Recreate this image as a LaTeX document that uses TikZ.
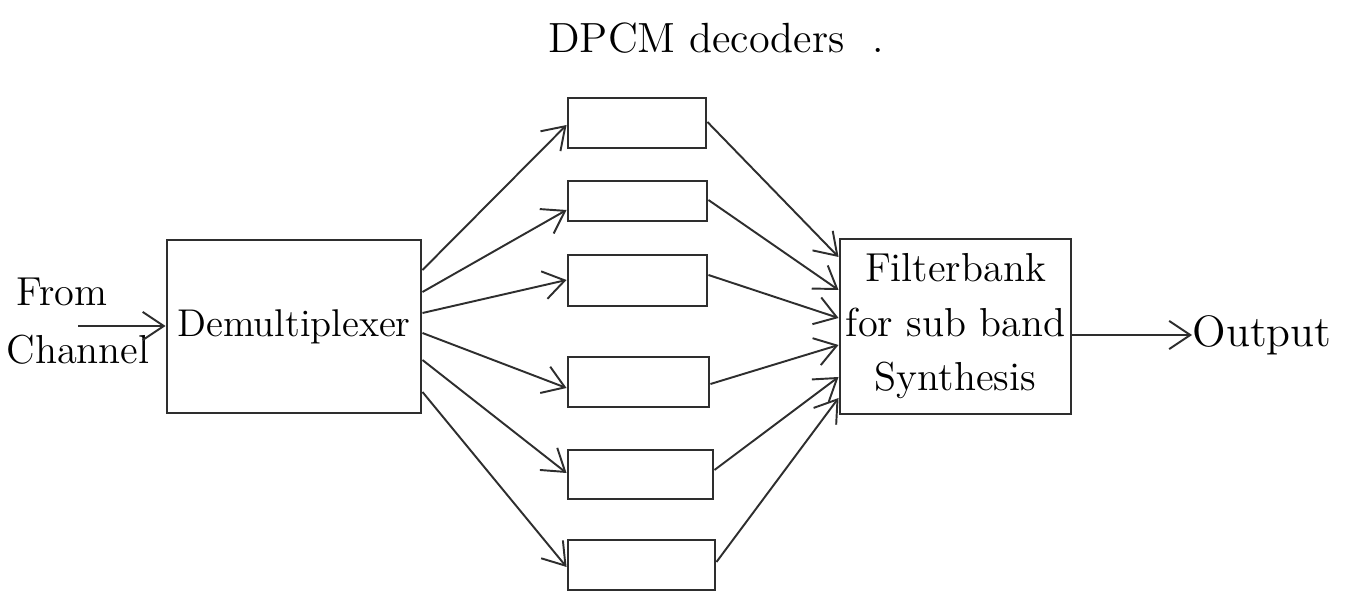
\documentclass[tikz,border=0pt]{standalone}
\usetikzlibrary{arrows.meta}
\definecolor{ink}{HTML}{2E2E2E}
\begin{document}
\begin{tikzpicture}[x=0.01cm,y=-0.01cm,
  box/.style 2 args={draw=ink,line width=0.8pt,minimum width=#1cm,minimum height=#2cm,inner sep=0pt},
  arr/.style={draw=ink,line width=0.55pt,-{Straight Barb[length=6pt,width=8pt]}},
  lbl/.style={text=black,inner sep=0pt,font=\fontsize{#1}{#1}\selectfont},
  lbl/.default=11]
  \useasboundingbox (0,0) rectangle (1351,607);

  % title above the decoder bank
  \node[lbl=12] (title) at (716,38) {DPCM decoders\ \ .};

  % input side
  \node[lbl=11.5] (from) at (62,292) {From};
  \node[lbl=11.5] (chan) at (78,350) {Channel};
  \coordinate (inp) at (78,326);
  \node[box={2.54}{1.73},font=\fontsize{11}{11}\selectfont] (demux) at (294,326.5) {Demultiplexer};

  % six DPCM decoders
  \node[box={1.38}{0.50}] (d1) at (637,123) {};
  \node[box={1.39}{0.40}] (d2) at (637.5,201) {};
  \node[box={1.39}{0.51}] (d3) at (637.5,280.5) {};
  \node[box={1.41}{0.50}] (d4) at (638.5,382) {};
  \node[box={1.45}{0.49}] (d5) at (640.5,474.5) {};
  \node[box={1.47}{0.50}] (d6) at (641.5,565) {};

  % synthesis filter bank
  \node[box={2.31}{1.75},align=center,font=\fontsize{11.5}{15.5}\selectfont] (fb) at (955.5,326.5)
    {Filterbank\\for sub band\\Synthesis};

  % output
  \node[lbl=12.5,anchor=west] (out) at (1192,335) {Output};

  % connectors
  \draw[arr] (inp) -- (demux.west |- inp);

  \draw[arr] (demux.east |- 0,270) -- (d1.west |- 0,125);
  \draw[arr] (demux.east |- 0,292) -- (d2.west |- 0,210);
  \draw[arr] (demux.east |- 0,313) -- (d3.west |- 0,280);
  \draw[arr] (demux.east |- 0,333) -- (d4.west |- 0,388);
  \draw[arr] (demux.east |- 0,360) -- (d5.west |- 0,473);
  \draw[arr] (demux.east |- 0,392) -- (d6.west |- 0,567);

  \draw[arr] (d1.east |- 0,122) -- (fb.west |- 0,257);
  \draw[arr] (d2.east |- 0,200) -- (fb.west |- 0,290);
  \draw[arr] (d3.east |- 0,275) -- (fb.west |- 0,318);
  \draw[arr] (d4.east |- 0,384) -- (fb.west |- 0,345);
  \draw[arr] (d5.east |- 0,470) -- (fb.west |- 0,377);
  \draw[arr] (d6.east |- 0,562) -- (fb.west |- 0,398);

  \draw[arr] (fb.east |- out.west) -- (out.west);
\end{tikzpicture}
\end{document}
